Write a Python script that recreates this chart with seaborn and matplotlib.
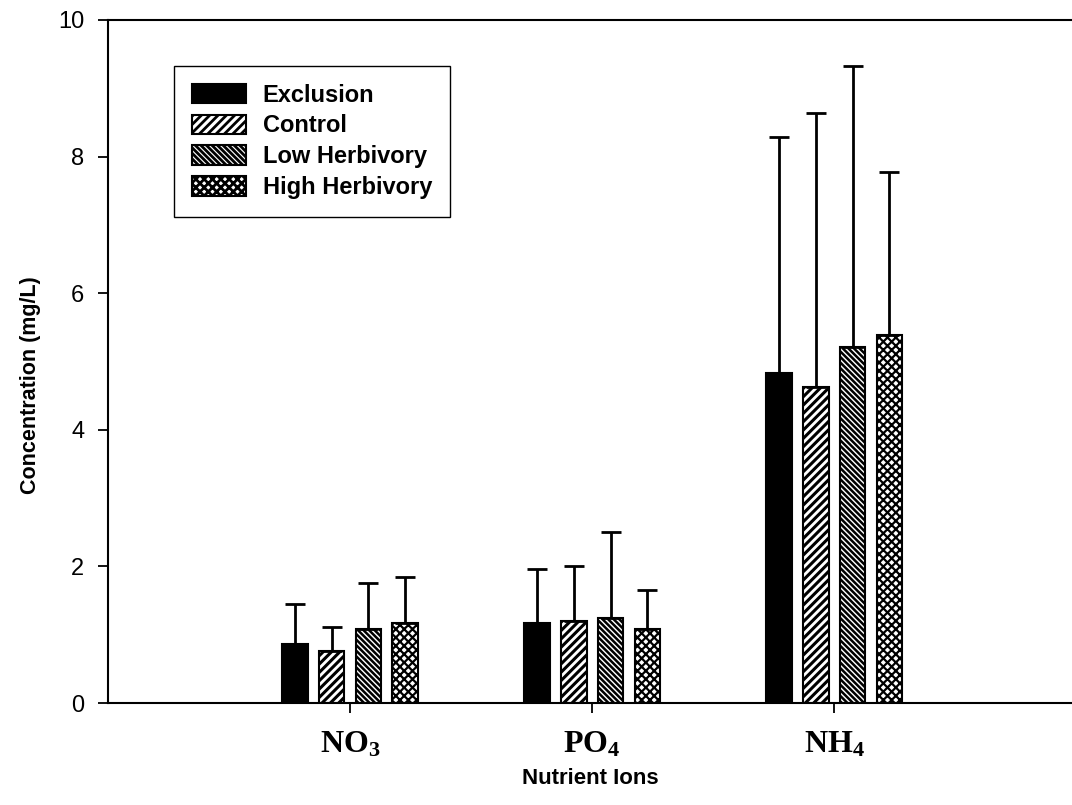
import pandas as pd
import numpy as np
import matplotlib
matplotlib.use('Agg')
import matplotlib.pyplot as plt
import seaborn as sns

# Data
ions = [r'$\mathrm{NO_3}$', r'$\mathrm{PO_4}$', r'$\mathrm{NH_4}$']
treatments = ['Exclusion', 'Control', 'Low Herbivory', 'High Herbivory']
means = {
    'Exclusion':      [0.86, 1.17, 4.83],
    'Control':        [0.76, 1.20, 4.63],
    'Low Herbivory':  [1.08, 1.24, 5.21],
    'High Herbivory': [1.17, 1.08, 5.39],
}
upper = {
    'Exclusion':      [1.45, 1.96, 8.29],
    'Control':        [1.12, 2.00, 8.64],
    'Low Herbivory':  [1.76, 2.50, 9.33],
    'High Herbivory': [1.84, 1.66, 7.77],
}
yticks = [0, 2, 4, 6, 8, 10]

# Style
sns.set_style('ticks')
plt.rcParams['font.family'] = ['Liberation Sans', 'DejaVu Sans']
plt.rcParams['mathtext.fontset'] = 'custom'
plt.rcParams['mathtext.rm'] = 'Liberation Serif:bold'
plt.rcParams['mathtext.it'] = 'Liberation Serif:bold'
plt.rcParams['mathtext.bf'] = 'Liberation Serif:bold'
plt.rcParams['hatch.linewidth'] = 2.0
plt.rcParams['hatch.color'] = 'black'
for key in ['text.color', 'axes.labelcolor', 'xtick.color', 'ytick.color']:
    plt.rcParams[key] = 'black'

rows = []
for t in treatments:
    for i, ion in enumerate(ions):
        rows.append({'ion': ion, 'treatment': t, 'value': means[t][i]})
df = pd.DataFrame(rows)

fig = plt.figure(figsize=(10.72, 8.05), dpi=100)
ax = fig.add_axes([108 / 1072, 102 / 805, 964 / 1072, 683 / 805])

sns.barplot(data=df, x='ion', y='value', hue='treatment', hue_order=treatments,
            order=ions, palette=['black', 'white', 'white', 'white'],
            width=0.61, gap=0.3, errorbar=None, edgecolor='black',
            linewidth=1.5, legend=False, ax=ax)

bar_groups = list(ax.containers)
hatches = [None, '////', '\\\\\\\\\\\\', 'xxxx']
hatch_widths = [1.0, 2.2, 1.8, 1.6]
for cont, t, h, hw in zip(bar_groups, treatments, hatches, hatch_widths):
    xs, ys = [], []
    for p in cont.patches:
        if h:
            p.set_hatch(h)
            if hasattr(p, 'set_hatch_linewidth'):
                p.set_hatch_linewidth(hw)
        xs.append(p.get_x() + p.get_width() / 2)
        ys.append(p.get_height())
    ys = np.array(ys)
    err = np.array(upper[t]) - ys
    ax.errorbar(xs, ys, yerr=[np.zeros_like(err), err], fmt='none',
                ecolor='black', elinewidth=2, capsize=7.5, capthick=2, zorder=1)

leg = ax.legend(handles=[c.patches[0] for c in bar_groups], labels=treatments,
                loc='upper left', bbox_to_anchor=(0.0685, 0.9327), borderaxespad=0,
                frameon=True, fancybox=False, edgecolor='black', framealpha=1,
                prop={'family': 'Liberation Sans', 'weight': 'bold', 'size': 17},
                handlelength=2.3, handleheight=0.9, handletextpad=0.7,
                labelspacing=0.33, borderpad=0.75)
leg.get_frame().set_linewidth(1.0)

ax.set_xlim(-1, 2.983)
ax.set_ylim(0, 10)
ax.set_yticks(yticks)
ax.set_yticklabels([str(v) for v in yticks], fontsize=17)
ax.tick_params(axis='both', direction='out', length=7, width=1.3, color='black')
ax.tick_params(axis='y', pad=10)
ax.tick_params(axis='x', labelsize=23, pad=12)

for side in ['left', 'bottom', 'top']:
    ax.spines[side].set_visible(True)
    ax.spines[side].set_linewidth(1.5)
    ax.spines[side].set_color('black')
ax.spines['right'].set_visible(False)

ax.set_xlabel('Nutrient Ions', fontsize=16, fontweight='bold', labelpad=6)
ax.set_ylabel('Concentration (mg/L)', fontsize=15.5, fontweight='bold')
ax.yaxis.set_label_coords(-0.07, 0.466)

fig.savefig('out.png', dpi=100)
plt.close(fig)
